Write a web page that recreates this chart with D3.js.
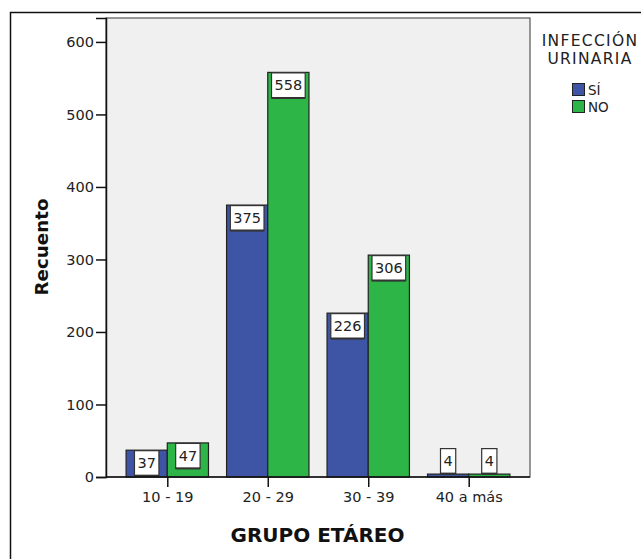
<!DOCTYPE html>
<html>
<head>
<meta charset="utf-8">
<script src="https://cdn.jsdelivr.net/npm/d3@7"></script>
<style>
  html, body { margin: 0; padding: 0; background: #fff; }
  svg { display: block; }
</style>
</head>
<body>
<svg id="chart" width="641" height="559"></svg>
<script>
const categories = ["10 - 19", "20 - 29", "30 - 39", "40 a más"];
const seriesNames = ["SÍ", "NO"];
const valuesSi = [37, 375, 226, 4];
const valuesNo = [47, 558, 306, 4];
const yTicks = [0, 100, 200, 300, 400, 500, 600];
const colors = ["#3e55a6", "#2db548"];

const svg = d3.select("#chart");
const font = "'DejaVu Sans', Arial, sans-serif";

// outer frame
svg.append("rect").attr("x", 10.5).attr("y", 12.5).attr("width", 700).attr("height", 600)
  .attr("fill", "#fff").attr("stroke", "#111").attr("stroke-width", 1.5);

const plot = { left: 106, right: 530, top: 18, bottom: 477 };

const y = d3.scaleLinear().domain([0, 633]).range([plot.bottom, plot.top]);
const x0 = d3.scaleBand().domain(categories).range([plot.left, plot.right])
  .paddingInner(0.18).paddingOuter(0.2);
const x1 = d3.scaleBand().domain(seriesNames).range([0, x0.bandwidth()]);

// plot background
svg.append("rect")
  .attr("x", plot.left).attr("y", plot.top)
  .attr("width", plot.right - plot.left).attr("height", plot.bottom - plot.top)
  .attr("fill", "#f0f0f0").attr("stroke", "#555").attr("stroke-width", 1.2);

const data = categories.map((c, i) => ({ cat: c, vals: [
  { s: seriesNames[0], v: valuesSi[i], k: 0 },
  { s: seriesNames[1], v: valuesNo[i], k: 1 }
]}));

const g = svg.append("g");
const groups = g.selectAll("g.grp").data(data).join("g")
  .attr("transform", d => `translate(${x0(d.cat)},0)`);

groups.selectAll("rect.bar").data(d => d.vals).join("rect")
  .attr("class", "bar")
  .attr("x", d => x1(d.s))
  .attr("y", d => y(d.v))
  .attr("width", x1.bandwidth())
  .attr("height", d => y(0) - y(d.v))
  .attr("fill", d => colors[d.k])
  .attr("stroke", "#222")
  .attr("stroke-width", 1.2);

// value labels
const boxH = 26;
groups.each(function(d) {
  const gg = d3.select(this);
  d.vals.forEach(p => {
    const cx = x1(p.s) + x1.bandwidth() / 2;
    const barTop = y(p.v);
    const barH = y(0) - barTop;
    const top = barH >= boxH - 1 ? barTop : barTop - boxH;
    const t = gg.append("text")
      .attr("x", cx).attr("y", top + boxH / 2 + 5)
      .attr("text-anchor", "middle")
      .attr("font-family", font).attr("font-size", 14.5)
      .attr("fill", "#222")
      .text(p.v);
    const w = t.node().getComputedTextLength() + 6;
    gg.insert("rect", "text")
      .attr("x", cx - w / 2).attr("y", top + 0.5)
      .attr("width", w).attr("height", boxH - 1)
      .attr("fill", "#fff").attr("stroke", "#333").attr("stroke-width", 1.2);
    gg.insert("line", "text")
      .attr("x1", cx - w / 2).attr("x2", cx + w / 2)
      .attr("y1", top + boxH - 0.5).attr("y2", top + boxH - 0.5)
      .attr("stroke", "#333").attr("stroke-width", 2);
  });
});
groups.selectAll("text").raise();

// y axis
const yAxis = d3.axisLeft(y).tickValues(yTicks).tickSize(10).tickPadding(2);
const ya = svg.append("g").attr("transform", `translate(${plot.left},0)`).call(yAxis);
ya.select(".domain").attr("stroke", "#111").attr("stroke-width", 1.5);
ya.selectAll(".tick line").attr("stroke", "#111").attr("stroke-width", 1.5);
ya.selectAll(".tick text").attr("font-family", font).attr("font-size", 14.5).attr("fill", "#222");

// x axis
const xCenters = d3.scalePoint().domain(categories)
  .range([x0(categories[0]) + x0.bandwidth() / 2, x0(categories[categories.length - 1]) + x0.bandwidth() / 2]);
const xAxis = d3.axisBottom(xCenters).tickSize(10).tickPadding(5).tickSizeOuter(0);
const xa = svg.append("g").attr("transform", `translate(0,${plot.bottom})`).call(xAxis);
xa.select(".domain").remove();
xa.append("line").attr("x1", plot.left).attr("x2", plot.right).attr("y1", 0).attr("y2", 0)
  .attr("stroke", "#111").attr("stroke-width", 1.5);
xa.selectAll(".tick line").attr("stroke", "#111").attr("stroke-width", 1.5);
xa.selectAll(".tick text").attr("font-family", font).attr("font-size", 14.5).attr("fill", "#222");

// axis titles
svg.append("text")
  .attr("x", 317.5).attr("y", 541.5)
  .attr("text-anchor", "middle")
  .attr("font-family", font).attr("font-weight", "bold").attr("font-size", 20)
  .attr("fill", "#111")
  .text("GRUPO ETÁREO");

svg.append("text")
  .attr("transform", "translate(48,247) rotate(-90)")
  .attr("text-anchor", "middle")
  .attr("font-family", font).attr("font-weight", "bold").attr("font-size", 18.3)
  .attr("fill", "#111")
  .text("Recuento");

// legend
const leg = svg.append("g");
leg.append("text").attr("x", 590).attr("y", 46).attr("text-anchor", "middle")
  .attr("font-family", font).attr("font-size", 15.5).attr("letter-spacing", 1.3)
  .attr("fill", "#222").text("INFECCIÓN");
leg.append("text").attr("x", 590).attr("y", 64).attr("text-anchor", "middle")
  .attr("font-family", font).attr("font-size", 15.5).attr("letter-spacing", 1.3)
  .attr("fill", "#222").text("URINARIA");
seriesNames.forEach((s, i) => {
  leg.append("rect").attr("x", 572.5).attr("y", 83.5 + i * 17).attr("width", 12).attr("height", 12)
    .attr("fill", colors[i]).attr("stroke", "#222").attr("stroke-width", 1);
  leg.append("text").attr("x", 588).attr("y", 95 + i * 17)
    .attr("font-family", font).attr("font-size", 13.5).attr("fill", "#222").text(s);
});
</script>
</body>
</html>
